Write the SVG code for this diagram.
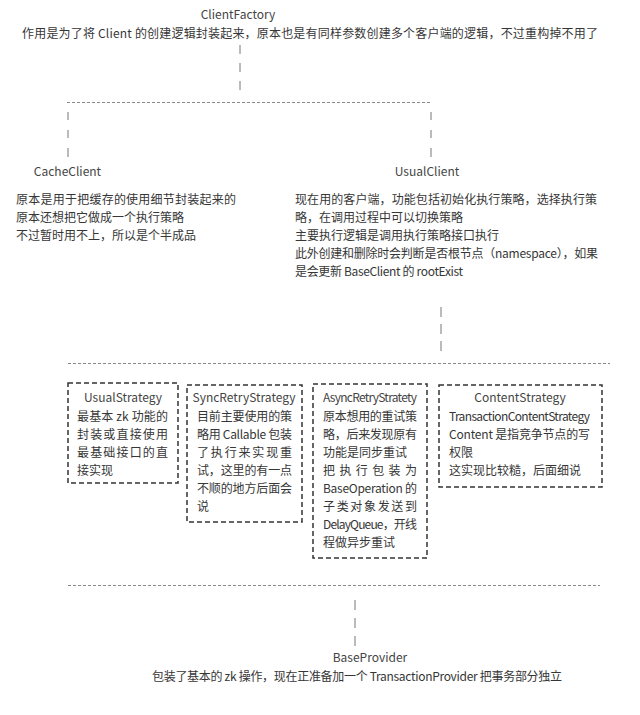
<svg xmlns="http://www.w3.org/2000/svg" width="640" height="715" viewBox="0 0 640 715">
<style>
text{font-family:"Noto Sans CJK SC","Noto Sans",sans-serif;font-size:12px;fill:#363636}
.t{font-size:12px;fill:#444}
.c{text-anchor:middle}
.v{stroke:#777;stroke-width:1;fill:none}
.h{stroke:#888;stroke-width:1;stroke-dasharray:3 2;fill:none}
.box{fill:none;stroke:#333;stroke-width:1.5;stroke-dasharray:5 3}
</style>
<rect width="640" height="715" fill="#fff"/>
<g id="connectors">
<path class="v" d="M240 45v9M240 63v9M240 81v9"/>
<path class="h" d="M67 102.5H432"/>
<path class="v" d="M68 112v8M68 130v8M68 148v9"/>
<path class="v" d="M431 112v8M431 130v8M431 148v9"/>
<path class="v" d="M441 307v10M441 324v10M441 341v10"/>
<path class="h" d="M68 363.5H610"/>
<path class="h" d="M68 585.5H600"/>
<path class="v" d="M355 600v10M355 618v10M355 636v10"/>
</g>
<g id="ClientFactory">
<text class="t c" x="238" y="19">ClientFactory</text>
<text x="22" y="38" textLength="576" lengthAdjust="spacing">作用是为了将 Client 的创建逻辑封装起来，原本也是有同样参数创建多个客户端的逻辑，不过重构掉不用了</text>
</g>
<g id="CacheClient">
<text class="t c" x="67.5" y="176">CacheClient</text>
<text x="16" y="204" textLength="220" lengthAdjust="spacing">原本是用于把缓存的使用细节封装起来的</text>
<text x="16" y="222">原本还想把它做成一个执行策略</text>
<text x="16" y="240">不过暂时用不上，所以是个半成品</text>
</g>
<g id="UsualClient">
<text class="t c" x="427" y="176">UsualClient</text>
<text x="295" y="204" textLength="302" lengthAdjust="spacing">现在用的客户端，功能包括初始化执行策略，选择执行策</text>
<text x="295" y="222">略，在调用过程中可以切换策略</text>
<text x="295" y="240">主要执行逻辑是调用执行策略接口执行</text>
<text x="295" y="258" textLength="303" lengthAdjust="spacing">此外创建和删除时会判断是否根节点（namespace），如果</text>
<text x="295" y="276" textLength="168" lengthAdjust="spacing">是会更新 BaseClient 的 rootExist</text>
</g>
<g id="UsualStrategy">
<rect class="box" x="68" y="383" width="110" height="100"/>
<text class="t c" x="123" y="402">UsualStrategy</text>
<text x="77" y="421" textLength="91" lengthAdjust="spacing">最基本 zk 功能的</text>
<text x="77" y="439" textLength="91" lengthAdjust="spacing">封装或直接使用</text>
<text x="77" y="457" textLength="91" lengthAdjust="spacing">最基础接口的直</text>
<text x="77" y="475">接实现</text>
</g>
<g id="SyncRetryStrategy">
<rect class="box" x="187" y="385" width="115" height="137"/>
<text class="t c" x="244" y="402">SyncRetryStrategy</text>
<text x="197" y="421" textLength="95" lengthAdjust="spacing">目前主要使用的策</text>
<text x="197" y="439" textLength="95" lengthAdjust="spacing">略用 Callable 包装</text>
<text x="197" y="457" textLength="95" lengthAdjust="spacing">了执行来实现重</text>
<text x="197" y="475" textLength="95" lengthAdjust="spacing">试，这里的有一点</text>
<text x="197" y="493" textLength="95" lengthAdjust="spacing">不顺的地方后面会</text>
<text x="197" y="511">说</text>
</g>
<g id="AsyncRetryStratety">
<rect class="box" x="313" y="384" width="114" height="174"/>
<text class="t" x="323" y="402" textLength="94" lengthAdjust="spacing">AsyncRetryStratety</text>
<text x="323" y="421" textLength="94" lengthAdjust="spacing">原本想用的重试策</text>
<text x="323" y="439" textLength="94" lengthAdjust="spacing">略，后来发现原有</text>
<text x="323" y="457">功能是同步重试</text>
<text x="323" y="475" textLength="94" lengthAdjust="spacing">把执行包装为</text>
<text x="323" y="493" textLength="94" lengthAdjust="spacing">BaseOperation 的</text>
<text x="323" y="511" textLength="94" lengthAdjust="spacing">子类对象发送到</text>
<text x="323" y="529" textLength="94" lengthAdjust="spacing">DelayQueue，开线</text>
<text x="323" y="547">程做异步重试</text>
</g>
<g id="ContentStrategy">
<rect class="box" x="439" y="385" width="163" height="102"/>
<text class="t c" x="520" y="402">ContentStrategy</text>
<text x="449" y="421" textLength="141" lengthAdjust="spacing">TransactionContentStrategy</text>
<text x="449" y="439" textLength="141" lengthAdjust="spacing">Content 是指竞争节点的写</text>
<text x="449" y="457">权限</text>
<text x="449" y="475">这实现比较糙，后面细说</text>
</g>
<g id="BaseProvider">
<text class="t c" x="370" y="662">BaseProvider</text>
<text class="c" x="357" y="681" textLength="410" lengthAdjust="spacing">包装了基本的 zk 操作，现在正准备加一个 TransactionProvider 把事务部分独立</text>
</g>
</svg>
